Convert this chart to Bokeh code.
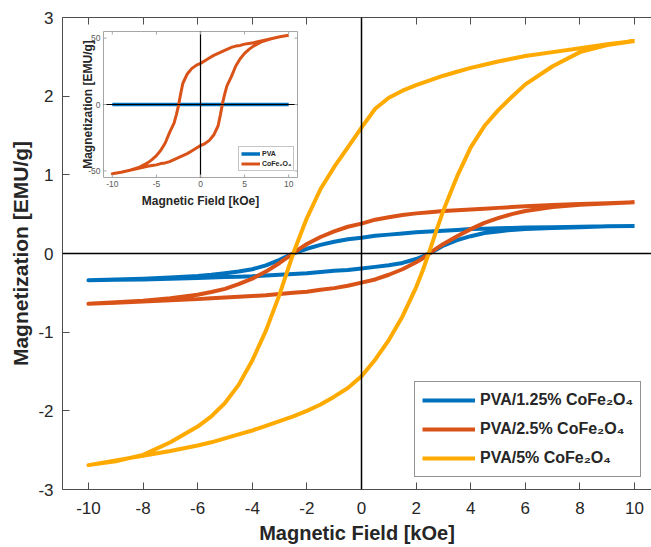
from bokeh.plotting import figure
from bokeh.models import Range1d, FixedTicker, LinearAxis, Span, Legend, LegendItem
from bokeh.core.properties import value
from bokeh.embed import file_html
from bokeh.resources import INLINE

FONT = "Liberation Sans"

# ---------------- data ----------------
x_ticks = [-10, -8, -6, -4, -2, 0, 2, 4, 6, 8, 10]
y_ticks = [-3, -2, -1, 0, 1, 2, 3]
inset_x_ticks = [-10, -5, 0, 5, 10]
inset_y_ticks = [-50, 0, 50]

series_labels = ["PVA/1.25% CoFe\u2082O\u2084", "PVA/2.5% CoFe\u2082O\u2084", "PVA/5% CoFe\u2082O\u2084"]
inset_labels = ["PVA", "CoFe\u2082O\u2084"]
x_title = "Magnetic Field [kOe]"
y_title = "Magnetization [EMU/g]"

# field sweep 10 -> -10 (descending branch)
field_down = [10, 9, 8, 7, 6, 5.5, 5, 4.5, 4, 3.5, 3, 2.5, 2, 1.5, 1, 0.5, 0,
              -0.5, -1, -1.5, -2, -2.25, -2.5, -2.75, -3, -3.5, -4, -4.5, -5,
              -5.5, -6, -7, -8, -9, -10]
# field sweep -10 -> 10 (ascending branch)
field_up = [-10, -9, -8, -7, -6, -5.5, -5, -4.5, -4, -3.5, -3, -2.5, -2, -1.5,
            -1, -0.5, 0, 0.5, 1, 1.5, 2, 2.25, 2.5, 2.75, 3, 3.5, 4, 4.5, 5,
            5.5, 6, 7, 8, 9, 10]

m125_down = [0.35, 0.345, 0.34, 0.335, 0.33, 0.325, 0.32, 0.315, 0.31, 0.30,
             0.29, 0.28, 0.27, 0.255, 0.24, 0.225, 0.20, 0.18, 0.15, 0.11,
             0.06, 0.03, 0.0, -0.04, -0.08, -0.15, -0.20, -0.23, -0.25, -0.27,
             -0.285, -0.305, -0.32, -0.33, -0.34]
m125_up = [-0.34, -0.335, -0.33, -0.32, -0.31, -0.305, -0.30, -0.295, -0.29,
           -0.28, -0.27, -0.26, -0.25, -0.235, -0.22, -0.21, -0.19, -0.17,
           -0.15, -0.12, -0.07, -0.035, 0.005, 0.05, 0.10, 0.17, 0.22, 0.26,
           0.28, 0.30, 0.31, 0.325, 0.335, 0.345, 0.35]

m25_down = [0.65, 0.64, 0.63, 0.615, 0.60, 0.59, 0.58, 0.57, 0.56, 0.55, 0.54,
            0.525, 0.51, 0.49, 0.46, 0.43, 0.38, 0.34, 0.28, 0.21, 0.12, 0.065,
            0.0, -0.06, -0.12, -0.23, -0.32, -0.39, -0.45, -0.49, -0.525,
            -0.57, -0.60, -0.62, -0.64]
m25_up = [-0.64, -0.625, -0.61, -0.595, -0.58, -0.57, -0.56, -0.55, -0.54,
          -0.53, -0.515, -0.50, -0.485, -0.46, -0.44, -0.41, -0.37, -0.33,
          -0.27, -0.20, -0.11, -0.06, 0.005, 0.065, 0.12, 0.22, 0.31, 0.39,
          0.45, 0.50, 0.54, 0.59, 0.62, 0.635, 0.65]

m5_down = [2.70, 2.66, 2.61, 2.56, 2.51, 2.475, 2.44, 2.40, 2.36, 2.31, 2.26,
           2.20, 2.14, 2.07, 1.98, 1.84, 1.60, 1.35, 1.10, 0.82, 0.45, 0.23,
           0.0, -0.26, -0.52, -0.98, -1.36, -1.67, -1.90, -2.07, -2.20, -2.40,
           -2.56, -2.64, -2.69]
m5_up = [-2.69, -2.63, -2.57, -2.51, -2.44, -2.40, -2.35, -2.30, -2.25, -2.19,
         -2.13, -2.07, -2.00, -1.92, -1.82, -1.71, -1.56, -1.35, -1.10, -0.80,
         -0.43, -0.21, 0.04, 0.30, 0.55, 0.98, 1.35, 1.62, 1.82, 1.99, 2.15,
         2.38, 2.56, 2.65, 2.70]

# inset: pure CoFe2O4 and pure PVA
cfo_down = [52.2, 51, 49.5, 48, 46.5, 46, 45.5, 44.5, 44, 43, 41.5, 40, 38.5,
            37, 35, 33, 31, 29.5, 27, 23, 16, 8, -1, -8, -14, -21, -29, -34.5,
            -38.5, -41.5, -44, -47.5, -49.5, -51, -52.2]
cfo_up = [-52.2, -51, -49.5, -48, -46.5, -46, -45.5, -44.5, -44, -43, -41.5,
          -40, -38.5, -37, -35, -33, -31, -29.5, -27, -23, -16, -8, 1, 8, 14,
          21, 29, 34.5, 38.5, 41.5, 44, 47.5, 49.5, 51, 52.2]
pva_field = [-10, -5, 0, 5, 10]
pva_mag = [0.0, 0.0, 0.0, 0.0, 0.0]

colors = ["#0072BD", "#D95319", "#FFAA00"]
TEXT = "#262626"
AXIS = "#4d4d4d"
INS_GRAY = "#a6a6a6"
INS_TEXT = "#595959"

# ---------------- layout constants (pixels) ----------------
W, H = 651, 547
FL, FR, FT, FB = 62, 651, 17, 489          # main frame edges
X_LIM = (-10.95, 10.62)
Y_LIM = (-3.0, 3.0)
INSET_X_LIM = (-11, 11)
INSET_Y_LIM = (-55, 55)
IL, IR, IT, IB = 103, 297, 31, 177         # inset frame edges


def px_to_x(px):
    return X_LIM[0] + (px - FL) / (FR - FL) * (X_LIM[1] - X_LIM[0])


def py_to_y(py):
    return Y_LIM[1] - (py - FT) / (FB - FT) * (Y_LIM[1] - Y_LIM[0])


# ---------------- main figure ----------------
p = figure(width=W, height=H, output_backend="svg", toolbar_location=None,
           x_range=Range1d(*X_LIM), y_range=Range1d(*Y_LIM),
           min_border_left=FL, min_border_right=W - FR, min_border_top=FT,
           min_border_bottom=H - FB,
           x_axis_label=x_title, y_axis_label=y_title)
p.outline_line_color = None
p.grid.visible = False
p.background_fill_color = "white"
p.border_fill_color = "white"

for ax in (p.xaxis[0], p.yaxis[0]):
    ax.axis_line_color = AXIS
    ax.major_tick_line_color = AXIS
    ax.major_tick_in = 7
    ax.major_tick_out = 0
    ax.minor_tick_line_color = None
    ax.major_label_text_font = FONT
    ax.major_label_text_font_size = "17px"
    ax.major_label_text_color = TEXT
    ax.axis_label_text_font = FONT
    ax.axis_label_text_font_style = "bold"
    ax.axis_label_text_color = TEXT
p.xaxis[0].axis_label_text_font_size = "20px"
p.yaxis[0].axis_label_text_font_size = "21px"
p.xaxis[0].ticker = FixedTicker(ticks=x_ticks)
p.yaxis[0].ticker = FixedTicker(ticks=y_ticks)
p.xaxis[0].major_label_overrides = {t: str(t) for t in x_ticks}
p.yaxis[0].major_label_overrides = {t: str(t) for t in y_ticks}
p.xaxis[0].major_label_standoff = 12
p.xaxis[0].axis_label_standoff = 5
p.yaxis[0].major_label_standoff = 9
p.yaxis[0].axis_label_standoff = 3

p.add_layout(LinearAxis(ticker=FixedTicker(ticks=x_ticks), major_label_text_font_size="1px",
                        major_label_text_color=None, major_label_standoff=0,
                        major_tick_in=7, major_tick_out=0, axis_line_color=AXIS,
                        major_tick_line_color=AXIS, minor_tick_line_color=None), "above")

r125 = p.line(field_down + field_up, m125_down + m125_up, line_color=colors[0],
              line_width=4, line_join="round")
r25 = p.line(field_down + field_up, m25_down + m25_up, line_color=colors[1],
             line_width=4, line_join="round")
r5 = p.line(field_down + field_up, m5_down + m5_up, line_color=colors[2],
            line_width=4, line_join="round")

p.add_layout(Span(location=0, dimension="width", line_color="black", line_width=1.5))
p.add_layout(Span(location=0, dimension="height", line_color="black", line_width=1.5))

legend = Legend(items=[LegendItem(label=series_labels[0], renderers=[r125]),
                       LegendItem(label=series_labels[1], renderers=[r25]),
                       LegendItem(label=series_labels[2], renderers=[r5])],
                location=(414 - FL, FB - 477), margin=0, padding=7, spacing=7,
                glyph_width=53, glyph_height=22, label_height=22, label_standoff=5,
                label_text_font=FONT, label_text_font_size="16px",
                label_text_font_style="bold", label_text_color=TEXT,
                border_line_color=TEXT, border_line_width=1,
                background_fill_color="white", background_fill_alpha=1.0)
p.add_layout(legend)

# ---------------- inset (sub-coordinates inside the main frame) ----------------
sub = p.subplot(x_source=Range1d(*INSET_X_LIM), y_source=Range1d(*INSET_Y_LIM),
                x_target=Range1d(px_to_x(IL), px_to_x(IR)),
                y_target=Range1d(py_to_y(IB), py_to_y(IT)))

x0, x1 = INSET_X_LIM
y0, y1 = INSET_Y_LIM
sub.quad(left=[x0], right=[x1], bottom=[y0], top=[y1], fill_color="white",
         line_color=INS_GRAY, line_width=1)

rp = sub.line(pva_field, pva_mag, line_color=colors[0], line_width=3.5)
rc = sub.line(field_down + field_up, cfo_down + cfo_up, line_color=colors[1],
              line_width=3, line_join="round")
sub.segment(x0=[x0, 0], y0=[0, y0], x1=[x1, 0], y1=[0, y1], line_color="black",
            line_width=1.2)

nx, ny = len(inset_x_ticks), len(inset_y_ticks)
# inward ticks on all four sides
sub.ray(x=inset_x_ticks, y=[y0] * nx, length=3, length_units="screen", angle=90,
        angle_units="deg", line_color=INS_GRAY, line_width=1)
sub.ray(x=inset_x_ticks, y=[y1] * nx, length=3, length_units="screen", angle=-90,
        angle_units="deg", line_color=INS_GRAY, line_width=1)
sub.ray(x=[x0] * ny, y=inset_y_ticks, length=3, length_units="screen", angle=0,
        angle_units="deg", line_color=INS_GRAY, line_width=1)
sub.ray(x=[x1] * ny, y=inset_y_ticks, length=3, length_units="screen", angle=180,
        angle_units="deg", line_color=INS_GRAY, line_width=1)

# tick labels
sub.text(x=inset_x_ticks, y=[y0] * nx, text=[str(t) for t in inset_x_ticks],
         text_align="center", text_baseline="top", y_offset=3,
         text_font=value(FONT), text_font_size="8.5px", text_color=INS_TEXT)
sub.text(x=[x0] * ny, y=inset_y_ticks, text=[str(t) for t in inset_y_ticks],
         text_align="right", text_baseline="middle", x_offset=-3,
         text_font=value(FONT), text_font_size="8.5px", text_color=INS_TEXT)

# axis titles
sub.text(x=[(x0 + x1) / 2], y=[y0], text=[x_title], text_align="center",
         text_baseline="middle", y_offset=23, text_font=value(FONT),
         text_font_size="12px", text_font_style="bold", text_color=TEXT)
sub.text(x=[x0], y=[(y0 + y1) / 2], text=[y_title], angle=90, angle_units="deg",
         text_align="center", text_baseline="middle", x_offset=-16,
         text_font=value(FONT), text_font_size="12px", text_font_style="bold",
         text_color=TEXT)

ilegend = Legend(items=[LegendItem(label=inset_labels[0], renderers=[rp]),
                        LegendItem(label=inset_labels[1], renderers=[rc])],
                 location=(238 - FL, FB - 171), margin=0, padding=2, spacing=1,
                 glyph_width=19, glyph_height=9, label_height=9, label_standoff=2,
                 label_text_font=FONT, label_text_font_size="7px",
                 label_text_font_style="bold", label_text_color=TEXT,
                 border_line_color="#8c8c8c", border_line_width=1,
                 background_fill_color="white")
p.add_layout(ilegend)

open("out.html", "w").write(file_html(p, INLINE))
